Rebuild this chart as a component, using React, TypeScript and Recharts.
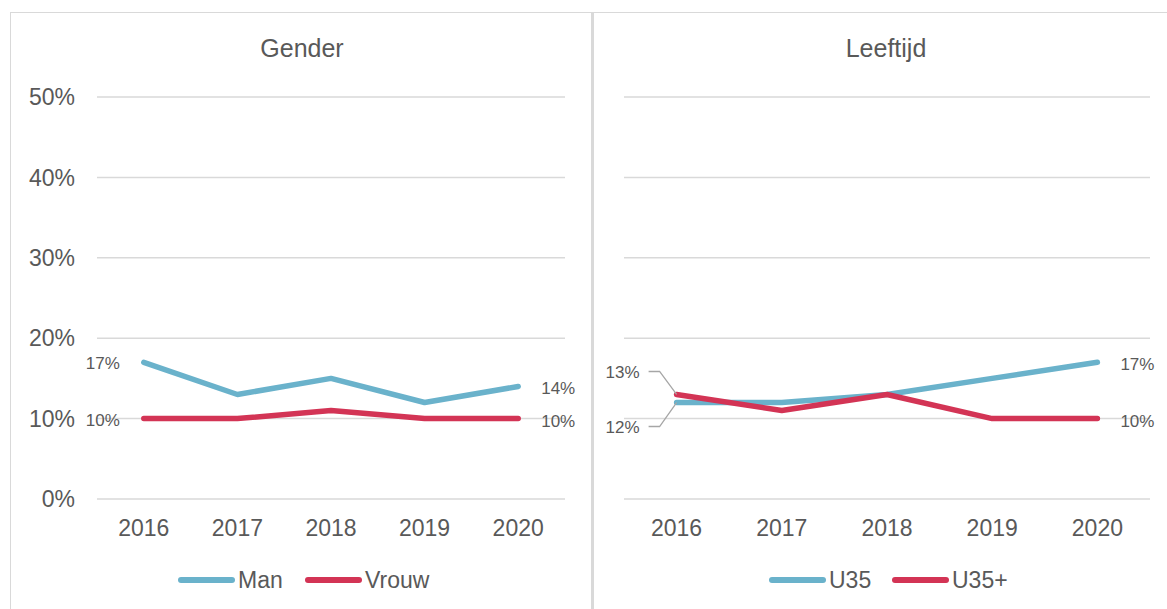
import React from 'react';
import { LineChart, Line, XAxis, YAxis, CartesianGrid, LabelList } from 'recharts';

const years = ['2016', '2017', '2018', '2019', '2020'];
const man = [17, 13, 15, 12, 14];
const vrouw = [10, 10, 11, 10, 10];
const u35 = [12, 12, 13, 15, 17];
const u35plus = [13, 11, 13, 10, 10];
const yTicks = [0, 10, 20, 30, 40, 50];

const BLUE = '#6AB2CB';
const RED = '#D33455';
const TEXT = '#595959';
const GRID = '#d9d9d9';
const FONT = '"Liberation Sans", Arial, sans-serif';

const genderData = years.map((y, i) => ({ year: y, Man: man[i], Vrouw: vrouw[i] }));
const ageData = years.map((y, i) => ({ year: y, U35: u35[i], 'U35+': u35plus[i] }));

const makeLabel = (opts: { first?: 'left' | 'up' | 'down'; last?: boolean }) => (props: any) => {
  const { x, y, value, index } = props;
  const txt = `${value}%`;
  if (index === 0 && opts.first === 'left') {
    return (
      <text x={x - 24} y={y + 1} dy="0.35em" textAnchor="end" fontSize={17} fill={TEXT} fontFamily={FONT}>
        {txt}
      </text>
    );
  }
  if (index === 0 && (opts.first === 'up' || opts.first === 'down')) {
    const ly = opts.first === 'up' ? y - 23 : y + 24;
    return (
      <g>
        <polyline
          points={`${x},${y} ${x - 17},${ly} ${x - 28},${ly}`}
          fill="none"
          stroke="#a6a6a6"
          strokeWidth={1.3}
        />
        <text x={x - 37} y={ly + 1} dy="0.35em" textAnchor="end" fontSize={17} fill={TEXT} fontFamily={FONT}>
          {txt}
        </text>
      </g>
    );
  }
  if (index === years.length - 1 && opts.last) {
    return (
      <text x={x + 23} y={y + 2} dy="0.35em" textAnchor="start" fontSize={17} fill={TEXT} fontFamily={FONT}>
        {txt}
      </text>
    );
  }
  return null;
};

const LegendItem = ({ left, color, label }: { left: number; color: string; label: string }) => (
  <div style={{ position: 'absolute', left, top: 566, height: 28, display: 'flex', alignItems: 'center' }}>
    <div style={{ width: 57, height: 6, borderRadius: 3, background: color }} />
    <span style={{ marginLeft: 3, fontSize: 23, lineHeight: '28px', color: TEXT, fontFamily: FONT }}>{label}</span>
  </div>
);

const tickStyle = { fontSize: 23, fill: TEXT, fontFamily: FONT };

export default function App() {
  return (
    <div style={{ position: 'relative', width: 1167, height: 609, overflow: 'hidden', background: '#fff', fontFamily: FONT }}>
      <style>{`body{margin:0;overflow:hidden;}`}</style>
      {/* frame */}
      <div style={{ position: 'absolute', left: 10, top: 12, width: 1157, height: 700, borderTop: `1.5px solid ${GRID}`, borderLeft: `1.5px solid ${GRID}` }} />
      <div style={{ position: 'absolute', left: 591, top: 12, width: 3, height: 700, background: GRID }} />
      <div style={{ position: 'absolute', left: 202, width: 200, top: 33, lineHeight: '30px', textAlign: 'center', fontSize: 25, color: TEXT, fontFamily: FONT }}>
        Gender
      </div>
      <div style={{ position: 'absolute', left: 786, width: 200, top: 33, lineHeight: '30px', textAlign: 'center', fontSize: 25, color: TEXT, fontFamily: FONT }}>
        Leeftijd
      </div>

      <div style={{ position: 'absolute', left: 10, top: 0 }}>
        <LineChart width={580} height={609} data={genderData} margin={{ top: 97, right: 25, bottom: 80, left: 0 }}>
          <CartesianGrid vertical={false} stroke={GRID} strokeWidth={1.5} />
          <XAxis
            dataKey="year"
            axisLine={false}
            tickLine={false}
            tickSize={0}
            tickMargin={21}
            height={30}
            tick={tickStyle}
            interval={0}
            padding={{ left: 46.8, right: 46.8 }}
          />
          <YAxis
            domain={[0, 50]}
            ticks={yTicks}
            width={87}
            axisLine={false}
            tickLine={false}
            tickSize={0}
            tickMargin={22}
            tick={tickStyle}
            tickFormatter={(v: number) => `${v}%`}
          />
          <Line dataKey="Man" stroke={BLUE} strokeWidth={5.5} strokeLinecap="round" strokeLinejoin="round" dot={false} isAnimationActive={false}>
            <LabelList dataKey="Man" content={makeLabel({ first: 'left', last: true })} />
          </Line>
          <Line dataKey="Vrouw" stroke={RED} strokeWidth={5.5} strokeLinecap="round" strokeLinejoin="round" dot={false} isAnimationActive={false}>
            <LabelList dataKey="Vrouw" content={makeLabel({ first: 'left', last: true })} />
          </Line>
        </LineChart>
      </div>

      <div style={{ position: 'absolute', left: 594, top: 0 }}>
        <LineChart width={569} height={609} data={ageData} margin={{ top: 97, right: 13, bottom: 80, left: 30 }}>
          <CartesianGrid vertical={false} stroke={GRID} strokeWidth={1.5} />
          <XAxis
            dataKey="year"
            axisLine={false}
            tickLine={false}
            tickSize={0}
            tickMargin={21}
            height={30}
            tick={tickStyle}
            interval={0}
            padding={{ left: 52.6, right: 52.6 }}
          />
          <YAxis domain={[0, 50]} ticks={yTicks} hide />
          <Line dataKey="U35" stroke={BLUE} strokeWidth={5.5} strokeLinecap="round" strokeLinejoin="round" dot={false} isAnimationActive={false}>
            <LabelList dataKey="U35" content={makeLabel({ first: 'down', last: true })} />
          </Line>
          <Line dataKey="U35+" stroke={RED} strokeWidth={5.5} strokeLinecap="round" strokeLinejoin="round" dot={false} isAnimationActive={false}>
            <LabelList dataKey="U35+" content={makeLabel({ first: 'up', last: true })} />
          </Line>
        </LineChart>
      </div>

      <LegendItem left={178} color={BLUE} label="Man" />
      <LegendItem left={305} color={RED} label="Vrouw" />
      <LegendItem left={769} color={BLUE} label="U35" />
      <LegendItem left={892} color={RED} label="U35+" />
    </div>
  );
}
